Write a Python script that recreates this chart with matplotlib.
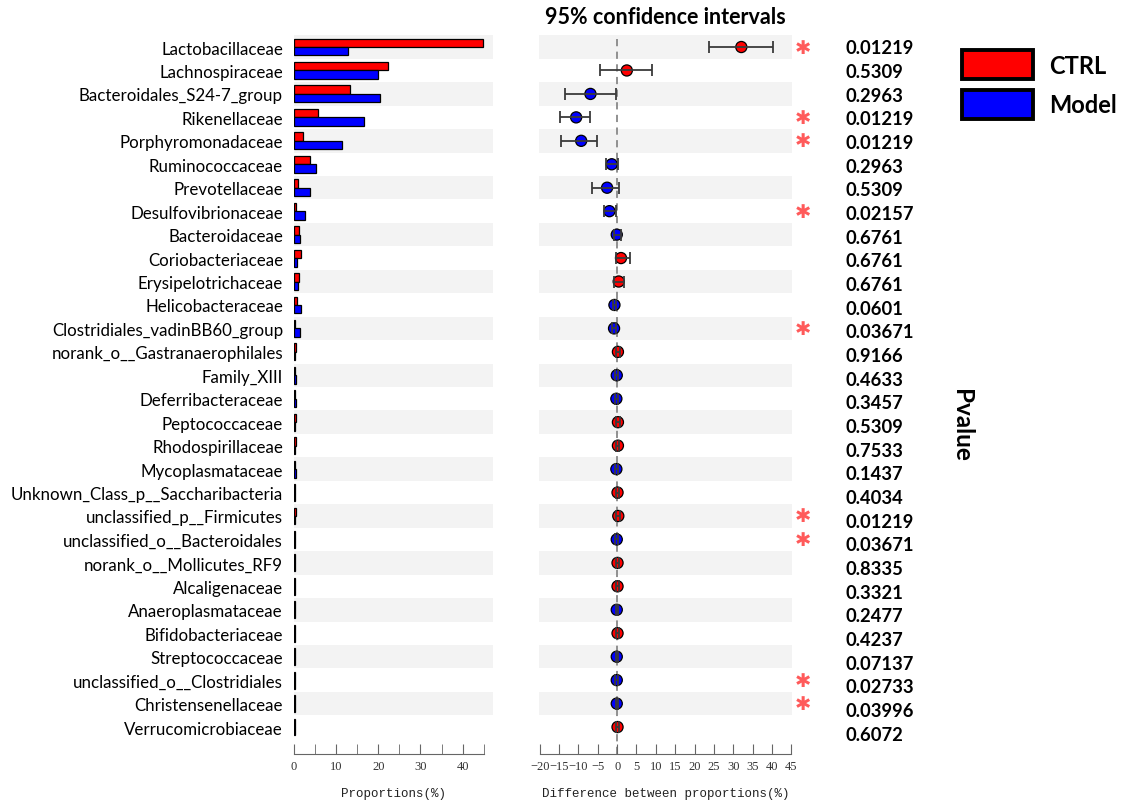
import numpy as np
import matplotlib
matplotlib.use("Agg")
import matplotlib.pyplot as plt
from matplotlib.patches import Rectangle

# ---- data -------------------------------------------------------------
taxa = [
    "Lactobacillaceae", "Lachnospiraceae", "Bacteroidales_S24-7_group",
    "Rikenellaceae", "Porphyromonadaceae", "Ruminococcaceae",
    "Prevotellaceae", "Desulfovibrionaceae", "Bacteroidaceae",
    "Coriobacteriaceae", "Erysipelotrichaceae", "Helicobacteraceae",
    "Clostridiales_vadinBB60_group", "norank_o__Gastranaerophilales",
    "Family_XIII", "Deferribacteraceae", "Peptococcaceae",
    "Rhodospirillaceae", "Mycoplasmataceae",
    "Unknown_Class_p__Saccharibacteria", "unclassified_p__Firmicutes",
    "unclassified_o__Bacteroidales", "norank_o__Mollicutes_RF9",
    "Alcaligenaceae", "Anaeroplasmataceae", "Bifidobacteriaceae",
    "Streptococcaceae", "unclassified_o__Clostridiales",
    "Christensenellaceae", "Verrucomicrobiaceae",
]
ctrl = [44.8, 22.3, 13.4, 5.7, 2.1, 3.7, 1.0, 0.5, 1.2, 1.6, 1.3, 0.6, 0.3,
        0.45, 0.35, 0.3, 0.4, 0.45, 0.3, 0.35, 0.4, 0.25, 0.3, 0.3, 0.2,
        0.25, 0.2, 0.25, 0.2, 0.25]
model = [12.8, 19.9, 20.4, 16.5, 11.5, 5.2, 3.8, 2.5, 1.4, 0.6, 0.95, 1.6,
         1.4, 0.25, 0.4, 0.5, 0.3, 0.3, 0.4, 0.25, 0.2, 0.35, 0.2, 0.2, 0.3,
         0.15, 0.25, 0.3, 0.3, 0.15]
diff = [32.1, 2.5, -6.9, -10.6, -9.3, -1.4, -2.6, -2.0, -0.1, 1.0, 0.4,
        -0.7, -0.8, 0.2, -0.1, -0.2, 0.2, 0.2, -0.2, 0.1, 0.3, -0.1, 0.1,
        0.1, -0.1, 0.1, -0.1, -0.1, -0.1, 0.1]
ci_lo = [23.7, -4.5, -13.4, -14.8, -14.4, -3.0, -6.5, -3.5, -0.9, -0.3,
         -0.9, -1.2, -1.3, -0.3, -0.5, -0.6, -0.3, -0.2, -0.6, -0.3, -0.2,
         -0.5, -0.2, -0.2, -0.4, -0.2, -0.4, -0.5, -0.4, -0.2]
ci_hi = [40.2, 8.9, -0.3, -6.9, -5.3, 0.3, 0.5, -0.4, 0.9, 3.3, 1.8, -0.2,
         -0.3, 0.7, 0.3, 0.2, 0.7, 0.6, 0.2, 0.5, 0.8, 0.3, 0.4, 0.4, 0.2,
         0.4, 0.2, 0.3, 0.2, 0.4]
pvals = ["0.01219", "0.5309", "0.2963", "0.01219", "0.01219", "0.2963",
         "0.5309", "0.02157", "0.6761", "0.6761", "0.6761", "0.0601",
         "0.03671", "0.9166", "0.4633", "0.3457", "0.5309", "0.7533",
         "0.1437", "0.4034", "0.01219", "0.03671", "0.8335", "0.3321",
         "0.2477", "0.4237", "0.07137", "0.02733", "0.03996", "0.6072"]
groups = ["CTRL", "Model"]

RED, BLUE, BAND = "#ff0000", "#0000ff", "#f3f3f3"
SANS = "Lato"
MONO = "Liberation Mono"
SERIF = "Liberation Serif"
W, H = 1139, 803

n = len(taxa)
y = np.arange(n)
YLIM = (30.15, -0.5)


def fx(px):
    return px / W


def fy(px):
    return 1 - px / H


fig = plt.figure(figsize=(W / 100, H / 100), dpi=100)

# ---- proportions panel -------------------------------------------------
axb = fig.add_axes([fx(294), fy(755), fx(493 - 294), (755 - 36.3) / H])
for i in range(0, n, 2):
    axb.axhspan(i - 0.5, i + 0.5, color=BAND, lw=0, zorder=0)
bh = 0.36
axb.barh(y - bh / 2, ctrl, height=bh, color=RED, edgecolor="black", lw=0.9,
         zorder=2)
axb.barh(y + bh / 2, model, height=bh, color=BLUE, edgecolor="black", lw=0.9,
         zorder=2)
axb.set_xlim(0, 47.2)
axb.set_ylim(*YLIM)
axb.set_yticks(y)
axb.set_yticklabels(taxa, fontsize=12.2, family=SANS)
axb.tick_params(axis="y", length=0, pad=8)
axb.set_xticks([0, 10, 20, 30, 40])
axb.set_xticks([5, 15, 25, 35, 45], minor=True)
axb.set_xlabel("Proportions(%)", family=MONO, fontsize=9, labelpad=11,
               color="#222222")

# ---- difference panel --------------------------------------------------
axd = fig.add_axes([fx(539), fy(755), fx(792 - 539), (755 - 36.3) / H])
for i in range(0, n, 2):
    axd.axhspan(i - 0.5, i + 0.5, color=BAND, lw=0, zorder=0)
axd.axvline(0, color="#888888", ls=(0, (4, 3)), lw=1.3, zorder=1)
cols = [RED if d > 0 else BLUE for d in diff]
axd.scatter(diff, y, s=64, c=cols, edgecolors="black", linewidths=0.9,
            zorder=3)
d = np.array(diff)
err = [d - np.array(ci_lo), np.array(ci_hi) - d]
axd.errorbar(diff, y, xerr=err, fmt="none", ecolor="#3a3a3a", elinewidth=1.3,
             capsize=4.5, capthick=1.3, zorder=4)
axd.set_xlim(-20.2, 45.2)
axd.set_ylim(*YLIM)
axd.set_yticks([])
axd.set_xticks(np.arange(-20, 46, 5))
axd.set_xlabel("Difference between proportions(%)", family=MONO, fontsize=9,
               labelpad=11, color="#222222")
axd.set_title("95% confidence intervals", fontsize=15.5, weight="bold",
              family=SANS, pad=9)

# significance asterisks
for i, p in enumerate(pvals):
    if float(p) < 0.05:
        axd.text(48.0, i, "\u2731", color="#ff5a5a", fontsize=14,
                 ha="center", va="center", family="DejaVu Sans",
                 clip_on=False)

for ax, bounds in ((axb, (0, 45)), (axd, (-20, 45))):
    for s in ("top", "right", "left"):
        ax.spines[s].set_visible(False)
    ax.spines["bottom"].set_bounds(*bounds)
    ax.spines["bottom"].set_color("#666666")
    ax.tick_params(axis="x", which="both", direction="in", length=7,
                   color="#666666", labelsize=9, labelcolor="#333333",
                   pad=4)
    for lab in ax.get_xticklabels():
        lab.set_family(SERIF)

# ---- p-values ------------------------------------------------------------
axp = fig.add_axes([fx(830), fy(735 + 11.85), fx(120), (735 - 49 + 23.7) / H])
axp.set_axis_off()
axp.set_xlim(0, 1)
axp.set_ylim(n - 0.5, -0.5)
for i, p in enumerate(pvals):
    axp.text(0.13, i, p, fontsize=13.2, weight="bold", family=SANS,
             ha="left", va="center")
fig.text(fx(962), fy(425), "Pvalue", rotation=270, fontsize=17.5,
         weight="bold", family=SANS, ha="center", va="center")

# ---- legend --------------------------------------------------------------
for k, (g, c) in enumerate(zip(groups, (RED, BLUE))):
    top = 51 + k * 39.5
    fig.patches.append(Rectangle((fx(962), fy(top + 29)), fx(71), 29 / H,
                                 transform=fig.transFigure, facecolor=c,
                                 edgecolor="black", lw=2.8))
    fig.text(fx(1049), fy(top + 15), g, fontsize=17, weight="bold",
             family=SANS, ha="left", va="center")

fig.savefig("out.png", dpi=100)
